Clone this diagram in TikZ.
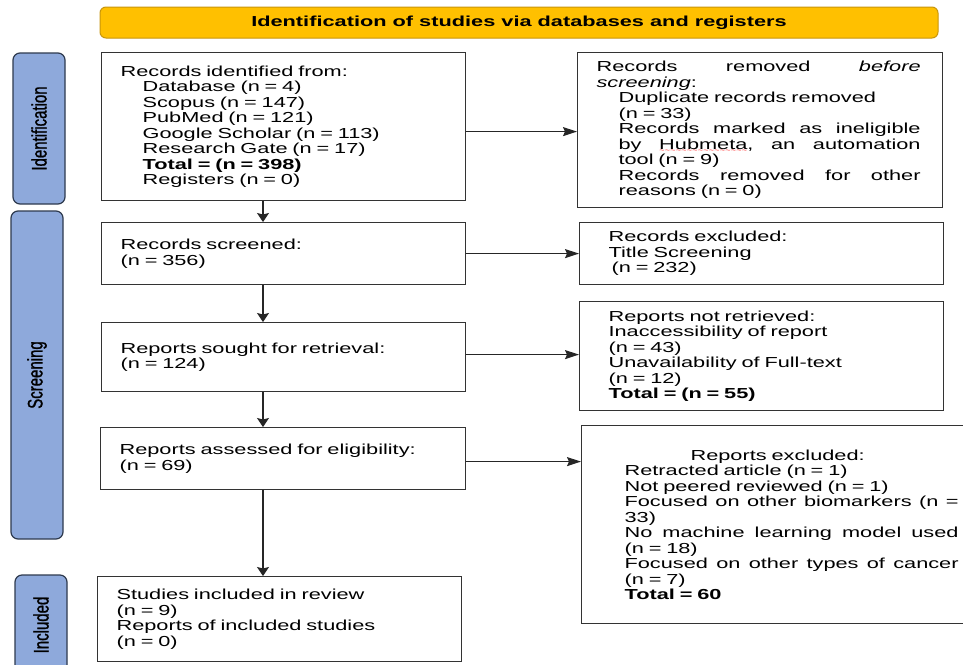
\documentclass[tikz,border=0pt]{standalone}
\usepackage{fontspec}
\setmainfont{Liberation Sans}[FakeStretch=1.5]
\newfontfamily\sidefont{Liberation Sans}[FakeBold=1.3]
\usetikzlibrary{arrows.meta}
\definecolor{bannerfill}{HTML}{FFC000}
\definecolor{bannerdraw}{HTML}{C8960C}
\definecolor{sidefill}{HTML}{8EA9DB}
\definecolor{sidedraw}{HTML}{2E3A4E}
\definecolor{boxdraw}{HTML}{333333}
\newsavebox\wavebox
\newcommand\redwave[1]{\leavevmode\sbox\wavebox{#1}\rlap{\raisebox{-3.2pt}[0pt][0pt]{\hbox to \wd\wavebox{\color{red}\fontsize{6}{6}\selectfont\xleaders\hbox{\char"7E}\hfill}}}#1}
\newcommand\justline[2]{\leavevmode\hbox to #1{#2}}
\tikzset{
  box/.style={draw=boxdraw, line width=1.2pt, rectangle, anchor=north west, align=left,
    inner ysep=0pt, font=\fontsize{14.5}{15.5}\selectfont},
  sidebar/.style={draw=sidedraw, fill=sidefill, line width=1.2pt, rounded corners=7pt,
    rotate=90, inner sep=0pt, font=\sidefont\fontsize{15}{16}\selectfont},
  banner/.style={draw=bannerdraw, fill=bannerfill, rounded corners=6pt, line width=1pt,
    font=\bfseries\fontsize{14.5}{15.5}\selectfont},
  varrow/.style={draw=black!85, line width=1.1pt, -{Stealth[length=9pt,width=12pt,inset=1.5pt]}},
  harrow/.style={draw=black!85, line width=1.1pt, -{Stealth[length=14pt,width=9pt,inset=2pt]}}
}
\newcommand\ind{\hspace*{22pt}}
\begin{document}
\begin{tikzpicture}[x=1pt,y=-1pt]
\clip (0,0) rectangle (963,664);
\fill[white] (0,0) rectangle (963,664);
% banner
\node[banner, minimum width=838pt, minimum height=31pt] (ban) at (519,22.5)
  {Identification of studies via databases and registers};
% sidebars
\node[sidebar, minimum width=151pt, minimum height=52pt] (sid) at (39,128.5)
  {\scalebox{1}[1.4]{Identification}};
\node[sidebar, minimum width=328pt, minimum height=52pt] (sscr) at (37,375)
  {\scalebox{1}[1.4]{Screening}};
\node[sidebar, minimum width=100pt, minimum height=52pt] (sinc) at (41,625)
  {\scalebox{1}[1.4]{Included}};
% left column
\node[box, minimum width=364pt, minimum height=148pt, inner xsep=19pt, text width=326pt] (b1) at (101,52)
  {Records identified from:\\
   \ind Database (n = 4)\\
   \ind Scopus (n = 147)\\
   \ind PubMed (n = 121)\\
   \ind Google Scholar (n = 113)\\
   \ind Research Gate (n = 17)\\
   \ind \textbf{Total = (n = 398)}\\
   \ind Registers (n = 0)};
\node[box, minimum width=364pt, minimum height=62pt, inner xsep=19pt, text width=326pt] (b2) at (101,222)
  {Records screened:\\(n = 356)};
\node[box, minimum width=364pt, minimum height=69pt, inner xsep=19pt, text width=326pt] (b3) at (101,322)
  {Reports sought for retrieval:\\(n = 124)};
\node[box, minimum width=365pt, minimum height=62pt, inner xsep=19pt, text width=327pt] (b4) at (100,427)
  {Reports assessed for eligibility:\\(n = 69)};
\node[box, minimum width=364pt, minimum height=85pt, inner xsep=19pt, text width=326pt] (b5) at (97,576)
  {Studies included in review\\(n = 9)\\Reports of included studies\\(n = 0)};
% right column
\node[box, minimum width=365pt, minimum height=155pt, inner xsep=19pt, text width=327pt] (r1) at (577,52)
  {\justline{324pt}{Records\hfill removed\hfill\textit{before}}\\
   \textit{screening}:\\
   \ind Duplicate records removed\\
   \ind (n = 33)\\
   \ind \justline{302pt}{Records\hfill marked\hfill as\hfill ineligible}\\
   \ind \justline{302pt}{by\hfill\redwave{Hubmeta},\hfill an\hfill automation}\\
   \ind tool (n = 9)\\
   \ind \justline{302pt}{Records\hfill removed\hfill for\hfill other}\\
   \ind reasons (n = 0)};
\node[box, minimum width=364pt, minimum height=62pt, inner xsep=29pt, text width=306pt] (r2) at (579,222)
  {Records excluded:\\Title Screening\\\hspace*{3pt}(n = 232)};
\node[box, minimum width=364pt, minimum height=109pt, inner xsep=29pt, text width=306pt] (r3) at (579,301)
  {Reports not retrieved:\\
   Inaccessibility of report\\
   (n = 43)\\
   Unavailability of Full-text\\
   (n = 12)\\
   \textbf{Total = (n = 55)}};
\node[box, minimum width=420pt, minimum height=198pt, inner xsep=43pt, text width=334pt] (r4) at (581,425)
  {\hspace*{66pt}Reports excluded:\\
   Retracted article (n = 1)\\
   Not peered reviewed (n = 1)\\
   \justline{334pt}{Focused\hfill on\hfill other\hfill biomarkers\hfill (n\hfill =}\\
   33)\\
   \justline{334pt}{No\hfill machine\hfill learning\hfill model\hfill used}\\
   (n = 18)\\
   \justline{334pt}{Focused\hfill on\hfill other\hfill types\hfill of\hfill cancer}\\
   (n = 7)\\
   \textbf{Total = 60}};
% vertical arrows
\coordinate (ax) at (263,0);
\draw[varrow] (b1.south -| ax) -- (b2.north -| ax);
\draw[varrow] (b2.south -| ax) -- (b3.north -| ax);
\draw[varrow] (b3.south -| ax) -- (b4.north -| ax);
\draw[varrow] (b4.south -| ax) -- (b5.north -| ax);
% horizontal arrows
\coordinate (h1) at ([yshift=-5pt]b1.east);
\coordinate (h2) at (b2.east);
\coordinate (h3) at ([yshift=2.5pt]b3.east);
\coordinate (h4) at ([yshift=-3pt]b4.east);
\draw[harrow] (h1) -- (h1 -| r1.west);
\draw[harrow] (h2) -- (h2 -| r2.west);
\draw[harrow] (h3) -- (h3 -| r3.west);
\draw[harrow] (h4) -- (h4 -| r4.west);
\end{tikzpicture}
\end{document}
